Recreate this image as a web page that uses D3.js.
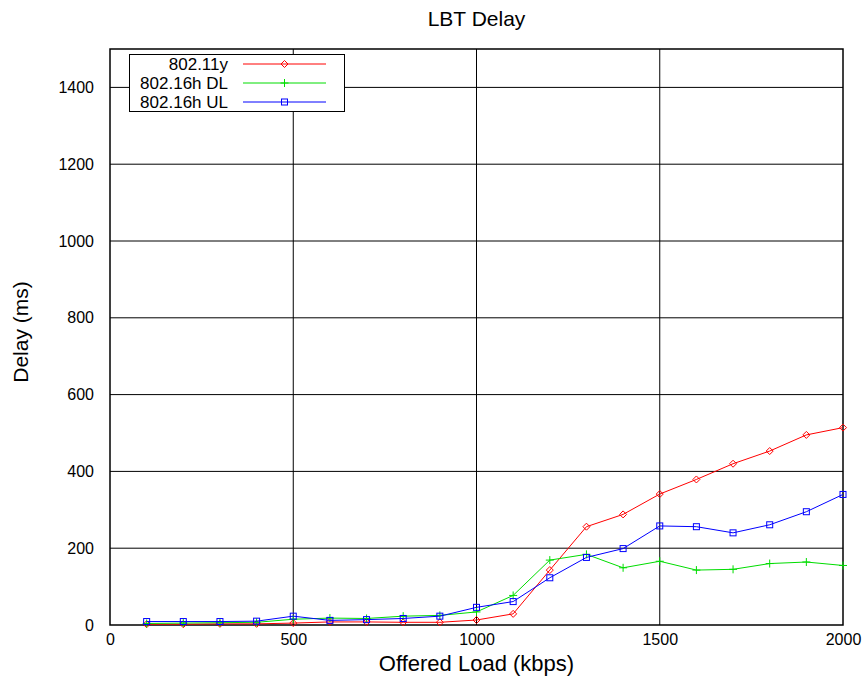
<!DOCTYPE html>
<html>
<head>
<meta charset="utf-8">
<script src="https://cdn.jsdelivr.net/npm/d3@7"></script>
<style>
  body { margin: 0; background: #fff; }
  svg { font-family: "Liberation Sans", Arial, sans-serif; }
</style>
</head>
<body>
<div id="chart"></div>
<script>
// offered load (kbps)
let loads = [100, 200, 300, 400, 500, 600, 700, 800, 900, 1000,
	1100, 1200, 1300, 1400, 1500, 1600, 1700, 1800, 1900, 2000];
// delay (ms)
let wifi = [2, 2, 3, 3, 5, 8, 8, 7, 7, 13, 29, 143, 256, 288, 341, 379, 420, 453, 495, 514];
let wimaxDL = [4, 5, 6, 7, 15, 18, 17, 23, 25, 34, 77, 169, 184, 149, 166, 143, 145, 160, 164, 155];
let wimaxUL = [9, 9, 9, 10, 23, 12, 14, 17, 23, 46, 61, 123, 176, 199, 258, 256, 240, 261, 295, 340];
let xTicks = [0, 500, 1000, 1500, 2000];
let yTicks = [0, 200, 400, 600, 800, 1000, 1200, 1400];

let series = [
	{ name: '802.11y', values: wifi, color: '#ff0000', marker: 'diamond' },
	{ name: '802.16h DL', values: wimaxDL, color: '#00dd00', marker: 'plus' },
	{ name: '802.16h UL', values: wimaxUL, color: '#0000ff', marker: 'square' },
];

let width = 867,
	height = 687;
let margin = { left: 110, right: 24, top: 49, bottom: 62 };

let svg = d3.select('#chart').append('svg').attr('width', width).attr('height', height);

let x = d3.scaleLinear().domain([0, 2000]).range([margin.left, width - margin.right]);
let y = d3.scaleLinear().domain([0, 1500]).range([height - margin.bottom, margin.top]);

// grid lines
svg.append('g')
	.selectAll('line')
	.data(xTicks.slice(1, -1))
	.enter()
	.append('line')
	.attr('x1', (d) => x(d))
	.attr('x2', (d) => x(d))
	.attr('y1', y(0))
	.attr('y2', y(1500))
	.attr('stroke', '#000')
	.attr('stroke-width', 1);

svg.append('g')
	.selectAll('line')
	.data(yTicks.slice(1))
	.enter()
	.append('line')
	.attr('x1', x(0))
	.attr('x2', x(2000))
	.attr('y1', (d) => y(d))
	.attr('y2', (d) => y(d))
	.attr('stroke', '#000')
	.attr('stroke-width', 1);

// axes (labels only, gnuplot style)
let xAxis = svg.append('g')
	.attr('transform', 'translate(0,' + y(0) + ')')
	.call(d3.axisBottom(x).tickValues(xTicks).tickFormat(d3.format('d')).tickSize(0).tickPadding(9));
let yAxis = svg.append('g')
	.attr('transform', 'translate(' + x(0) + ',0)')
	.call(d3.axisLeft(y).tickValues(yTicks).tickFormat(d3.format('d')).tickSize(0).tickPadding(16));
[xAxis, yAxis].forEach((a) => {
	a.select('.domain').remove();
	a.selectAll('text').style('font-size', '16px').attr('fill', '#000')
		.style('font-family', '"Liberation Sans", Arial, sans-serif');
});

// frame
svg.append('rect')
	.attr('x', x(0))
	.attr('y', y(1500))
	.attr('width', x(2000) - x(0))
	.attr('height', y(0) - y(1500))
	.attr('fill', 'none')
	.attr('stroke', '#000')
	.attr('stroke-width', 1.5);

function drawMarker(g, type, cx, cy, color) {
	if (type == 'diamond') {
		g.append('path')
			.attr('d', 'M' + cx + ',' + (cy - 3.5) + 'L' + (cx + 3.5) + ',' + cy + 'L' + cx + ',' + (cy + 3.5) + 'L' + (cx - 3.5) + ',' + cy + 'Z')
			.attr('fill', 'none').attr('stroke', color).attr('stroke-width', 1);
	} else if (type == 'plus') {
		g.append('path')
			.attr('d', 'M' + (cx - 4) + ',' + cy + 'H' + (cx + 4) + 'M' + cx + ',' + (cy - 4) + 'V' + (cy + 4))
			.attr('stroke', color).attr('stroke-width', 1);
	} else {
		g.append('rect')
			.attr('x', cx - 3).attr('y', cy - 3).attr('width', 6).attr('height', 6)
			.attr('fill', 'none').attr('stroke', color).attr('stroke-width', 1);
	}
}

let line = d3.line()
	.x((d) => x(d[0]))
	.y((d) => y(d[1]));

series.forEach((s) => {
	let pts = loads.map((l, i) => [l, s.values[i]]);
	let g = svg.append('g');
	g.append('path')
		.attr('d', line(pts))
		.attr('fill', 'none')
		.attr('stroke', s.color)
		.attr('stroke-width', 1);
	pts.forEach((p) => drawMarker(g, s.marker, x(p[0]), y(p[1]), s.color));
});

// legend
let legend = svg.append('g');
legend.append('rect')
	.attr('x', 129.5).attr('y', 54.5).attr('width', 215).attr('height', 57)
	.attr('fill', '#fff').attr('stroke', '#000').attr('stroke-width', 1);
series.forEach((s, i) => {
	let ly = 64 + i * 19;
	legend.append('text')
		.attr('x', 228).attr('y', ly).attr('dy', '0.36em')
		.attr('text-anchor', 'end')
		.style('font-size', '17px')
		.text(s.name);
	legend.append('line')
		.attr('x1', 243).attr('x2', 326).attr('y1', ly).attr('y2', ly)
		.attr('stroke', s.color).attr('stroke-width', 1);
	drawMarker(legend, s.marker, 284.5, ly, s.color);
});

// titles
svg.append('text')
	.attr('x', (x(0) + x(2000)) / 2).attr('y', 26)
	.attr('text-anchor', 'middle')
	.style('font-size', '21px')
	.text('LBT Delay');
svg.append('text')
	.attr('x', (x(0) + x(2000)) / 2).attr('y', 671)
	.attr('text-anchor', 'middle')
	.style('font-size', '22px')
	.text('Offered Load (kbps)');
svg.append('text')
	.attr('transform', 'translate(28,' + 332 + ') rotate(-90)')
	.attr('text-anchor', 'middle')
	.style('font-size', '21px')
	.text('Delay (ms)');
</script>
</body>
</html>
